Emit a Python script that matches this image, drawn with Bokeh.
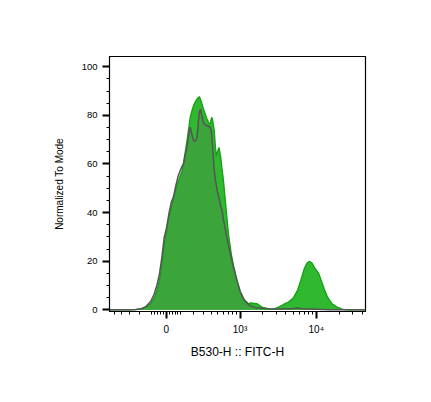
import numpy as np
from bokeh.plotting import figure
from bokeh.models import Range1d, FixedTicker
from bokeh.embed import file_html
from bokeh.resources import INLINE

# Histogram data: x in display channels (0-1024 biexponential display scale), y = % of mode
channel = [0, 80, 105, 125, 145, 165, 178, 190, 200, 210, 219, 228, 237, 247, 256, 265, 274, 283,
           290, 296, 303, 310, 316, 323, 330, 336, 343, 350, 356, 360, 364, 370, 376, 383, 390,
           396, 403, 407, 410, 414, 419, 423, 427, 432, 438, 445, 450, 456, 462, 467, 476, 487,
           496, 510, 523, 539, 556, 565, 573, 590, 610, 636, 656, 676, 696, 716, 736, 752, 765,
           779, 790, 799, 810, 823, 836, 847, 859, 872, 890, 910, 930, 950, 1024]
sample = [0, 0, 0.1, 0.4, 1.1, 2.6, 4.7, 8.0, 12.1, 18.9, 27.1, 32.0, 37.8, 42.0, 45.6, 49.5, 52.5,
          55.0, 57.0, 60.5, 65.0, 69.6, 74.0, 79.2, 82.0, 84.0, 85.5, 86.7, 87.3, 87.7, 86.5, 84.7,
          82.5, 80.6, 78.5, 77.1, 76.4, 78.5, 79.2, 77.0, 73.7, 68.0, 63.4, 65.0, 66.8, 62.7, 58.0,
          53.1, 46.5, 40.8, 31.0, 23.0, 18.2, 12.1, 7.3, 4.1, 2.5, 2.8, 2.7, 2.5, 1.1, 0.4, 0.3,
          1.1, 2.2, 3.2, 5.0, 8.0, 12.1, 16.9, 19.2, 20.0, 19.2, 16.9, 15.1, 12.1, 8.6, 5.2, 2.5,
          1.1, 0.3, 0, 0]
control = [0, 0, 0.1, 0.4, 1.3, 3.5, 6.3, 10.2, 14.8, 22.0, 29.9, 33.6, 39.2, 44.2, 46.5, 51.0,
           54.8, 57.3, 59.0, 60.0, 63.5, 66.8, 71.5, 75.1, 72.0, 69.6, 69.3, 71.0, 78.0, 81.5, 82.6,
           79.5, 77.1, 76.0, 75.8, 75.5, 75.1, 73.5, 70.9, 65.0, 57.3, 54.0, 51.5, 48.5, 46.0, 42.5,
           41.0, 37.0, 34.0, 31.0, 26.5, 21.5, 17.5, 12.0, 7.5, 4.0, 2.2, 1.6, 1.3, 0.8, 0.6, 0.4,
           0.3, 0.3, 0.4, 0.4, 0.5, 0.7, 0.5, 0.4, 0.3, 0.3, 0.3, 0.2, 0.2, 0.1, 0.1, 0.0, 0, 0, 0,
           0, 0]

y_ticks = [0, 20, 40, 60, 80, 100]
y_minor = [5, 10, 15, 25, 30, 35, 45, 50, 55, 65, 70, 75, 85, 90, 95]
x_major_values = [0, 1000, 10000]
x_major_labels = ["0", "10\u00b3", "10\u2074"]
x_minor_values = ([-500, -400, -300, -200] + [-100, -80, -60, -40, -20, 20, 40, 60, 80, 100]
                  + [200, 300, 400, 500, 600, 700, 800, 900]
                  + [2000, 3000, 4000, 5000, 6000, 7000, 8000, 9000]
                  + [20000, 30000, 40000])


def biex(v):
    return 226.8 + 133.36 * np.arcsinh(np.asarray(v, dtype=float) / 222.0)


FONT = "Liberation Sans"

p = figure(output_backend="svg", toolbar_location=None,
           frame_width=256, frame_height=255,
           min_border_left=109, min_border_top=56, min_border_right=40, min_border_bottom=70,
           x_range=Range1d(0, 1024), y_range=Range1d(-0.7, 104.2))

x = np.array(channel, dtype=float)
s = np.array(sample, dtype=float)
c = np.array(control, dtype=float)

p.varea(x=x, y1=0, y2=c, fill_color="#e2e2e2")
p.varea(x=x, y1=0, y2=s, fill_color="#30b830")
p.varea(x=x, y1=0, y2=np.minimum(s, c), fill_color="#3ba43b")
p.line(x, s, line_color="#12a012", line_width=1.3)
p.line(x, c, line_color="#555555", line_width=1.5)

p.grid.visible = False
p.outline_line_color = "black"
p.outline_line_width = 1.2

major_pos = [int(round(float(biex(v)))) for v in x_major_values]
minor_pos = [float(biex(v)) for v in x_minor_values]
p.xaxis.ticker = FixedTicker(ticks=major_pos, minor_ticks=minor_pos)
p.xaxis.major_label_overrides = {pos: lab for pos, lab in zip(major_pos, x_major_labels)}
p.yaxis.ticker = FixedTicker(ticks=y_ticks, minor_ticks=y_minor)

for ax in (p.xaxis[0], p.yaxis[0]):
    ax.axis_line_color = "black"
    ax.major_tick_line_color = "black"
    ax.minor_tick_line_color = "black"
    ax.major_tick_line_width = 2
    ax.minor_tick_line_width = 1
    ax.major_tick_out = 7
    ax.major_tick_in = 0
    ax.minor_tick_out = 3
    ax.minor_tick_in = 0
    ax.major_label_text_font = FONT
    ax.major_label_text_color = "black"
    ax.axis_label_text_font = FONT
    ax.axis_label_text_font_style = "normal"
    ax.axis_label_text_color = "black"

p.yaxis.major_label_text_font_size = "9.5px"
p.xaxis.major_label_text_font_size = "10px"
p.yaxis.axis_label = "Normalized To Mode"
p.yaxis.axis_label_text_font_size = "10px"
p.yaxis.major_label_standoff = 5
p.yaxis.axis_label_standoff = 14
p.xaxis.axis_label = "B530-H :: FITC-H"
p.xaxis.axis_label_text_font_size = "12px"
p.xaxis.major_label_standoff = 5
p.xaxis.axis_label_standoff = 7

open("out.html", "w").write(file_html(p, INLINE))
